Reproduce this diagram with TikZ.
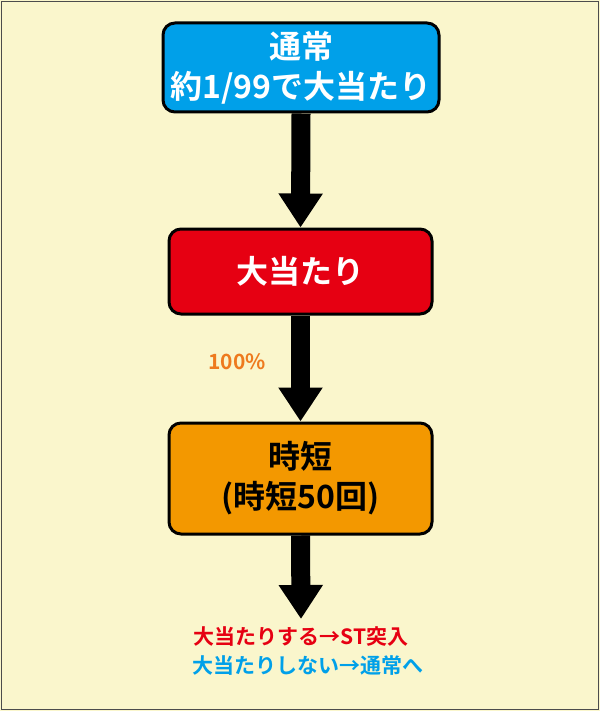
\documentclass[tikz,border=0pt]{standalone}
\usepackage{fontspec}
\newfontfamily\jp{Noto Sans CJK JP}[BoldFont={Noto Sans CJK JP Bold}]
\usetikzlibrary{arrows.meta}
\definecolor{bg}{HTML}{FAF6CC}
\definecolor{cblue}{HTML}{00A0E9}
\definecolor{cred}{HTML}{E60012}
\definecolor{corange}{HTML}{F39800}
\definecolor{torange}{HTML}{EE7A1E}
\begin{document}
\begin{tikzpicture}[x=1pt,y=-1pt,
  box/.style={draw=black,line width=3pt,rounded corners=12pt,text=white,font=\jp\bfseries\fontsize{32}{40}\selectfont,align=center,inner sep=0pt},
  small/.style={font=\jp\bfseries\fontsize{21}{24}\selectfont},
  arr/.style={line width=19pt,-{Triangle[width=42pt,length=34pt]},shorten >=0pt}]
\useasboundingbox (0,0) rectangle (600,711);
\fill[bg] (0,0) rectangle (600,711);
\draw[line width=1.2pt,black!70] (1.5,1.5) rectangle (598.5,709.5);
\node[box,fill=cblue,minimum width=276pt,minimum height=89pt] (a) at (301,67.5) {通常\\約1/99で大当たり};
\node[box,fill=cred,minimum width=263pt,minimum height=85pt] (b) at (300.5,271.5) {大当たり};
\node[box,fill=corange,minimum width=263pt,minimum height=111pt,text=black] (c) at (300.5,478.5) {時短\\(時短50回)};
\coordinate (d) at (301,619);
\draw[arr] (a.south) -- (b.north);
\draw[arr] (b.south) -- (c.north);
\draw[arr] (c.south) -- (d);
\node[small,text=torange] (p) at (237,362) {100\%};
\node[small,text=cred] (t1) at (301,637) {大当たりする→ST突入};
\node[small,text=cblue] (t2) at (308,666) {大当たりしない→通常へ};
\end{tikzpicture}
\end{document}
